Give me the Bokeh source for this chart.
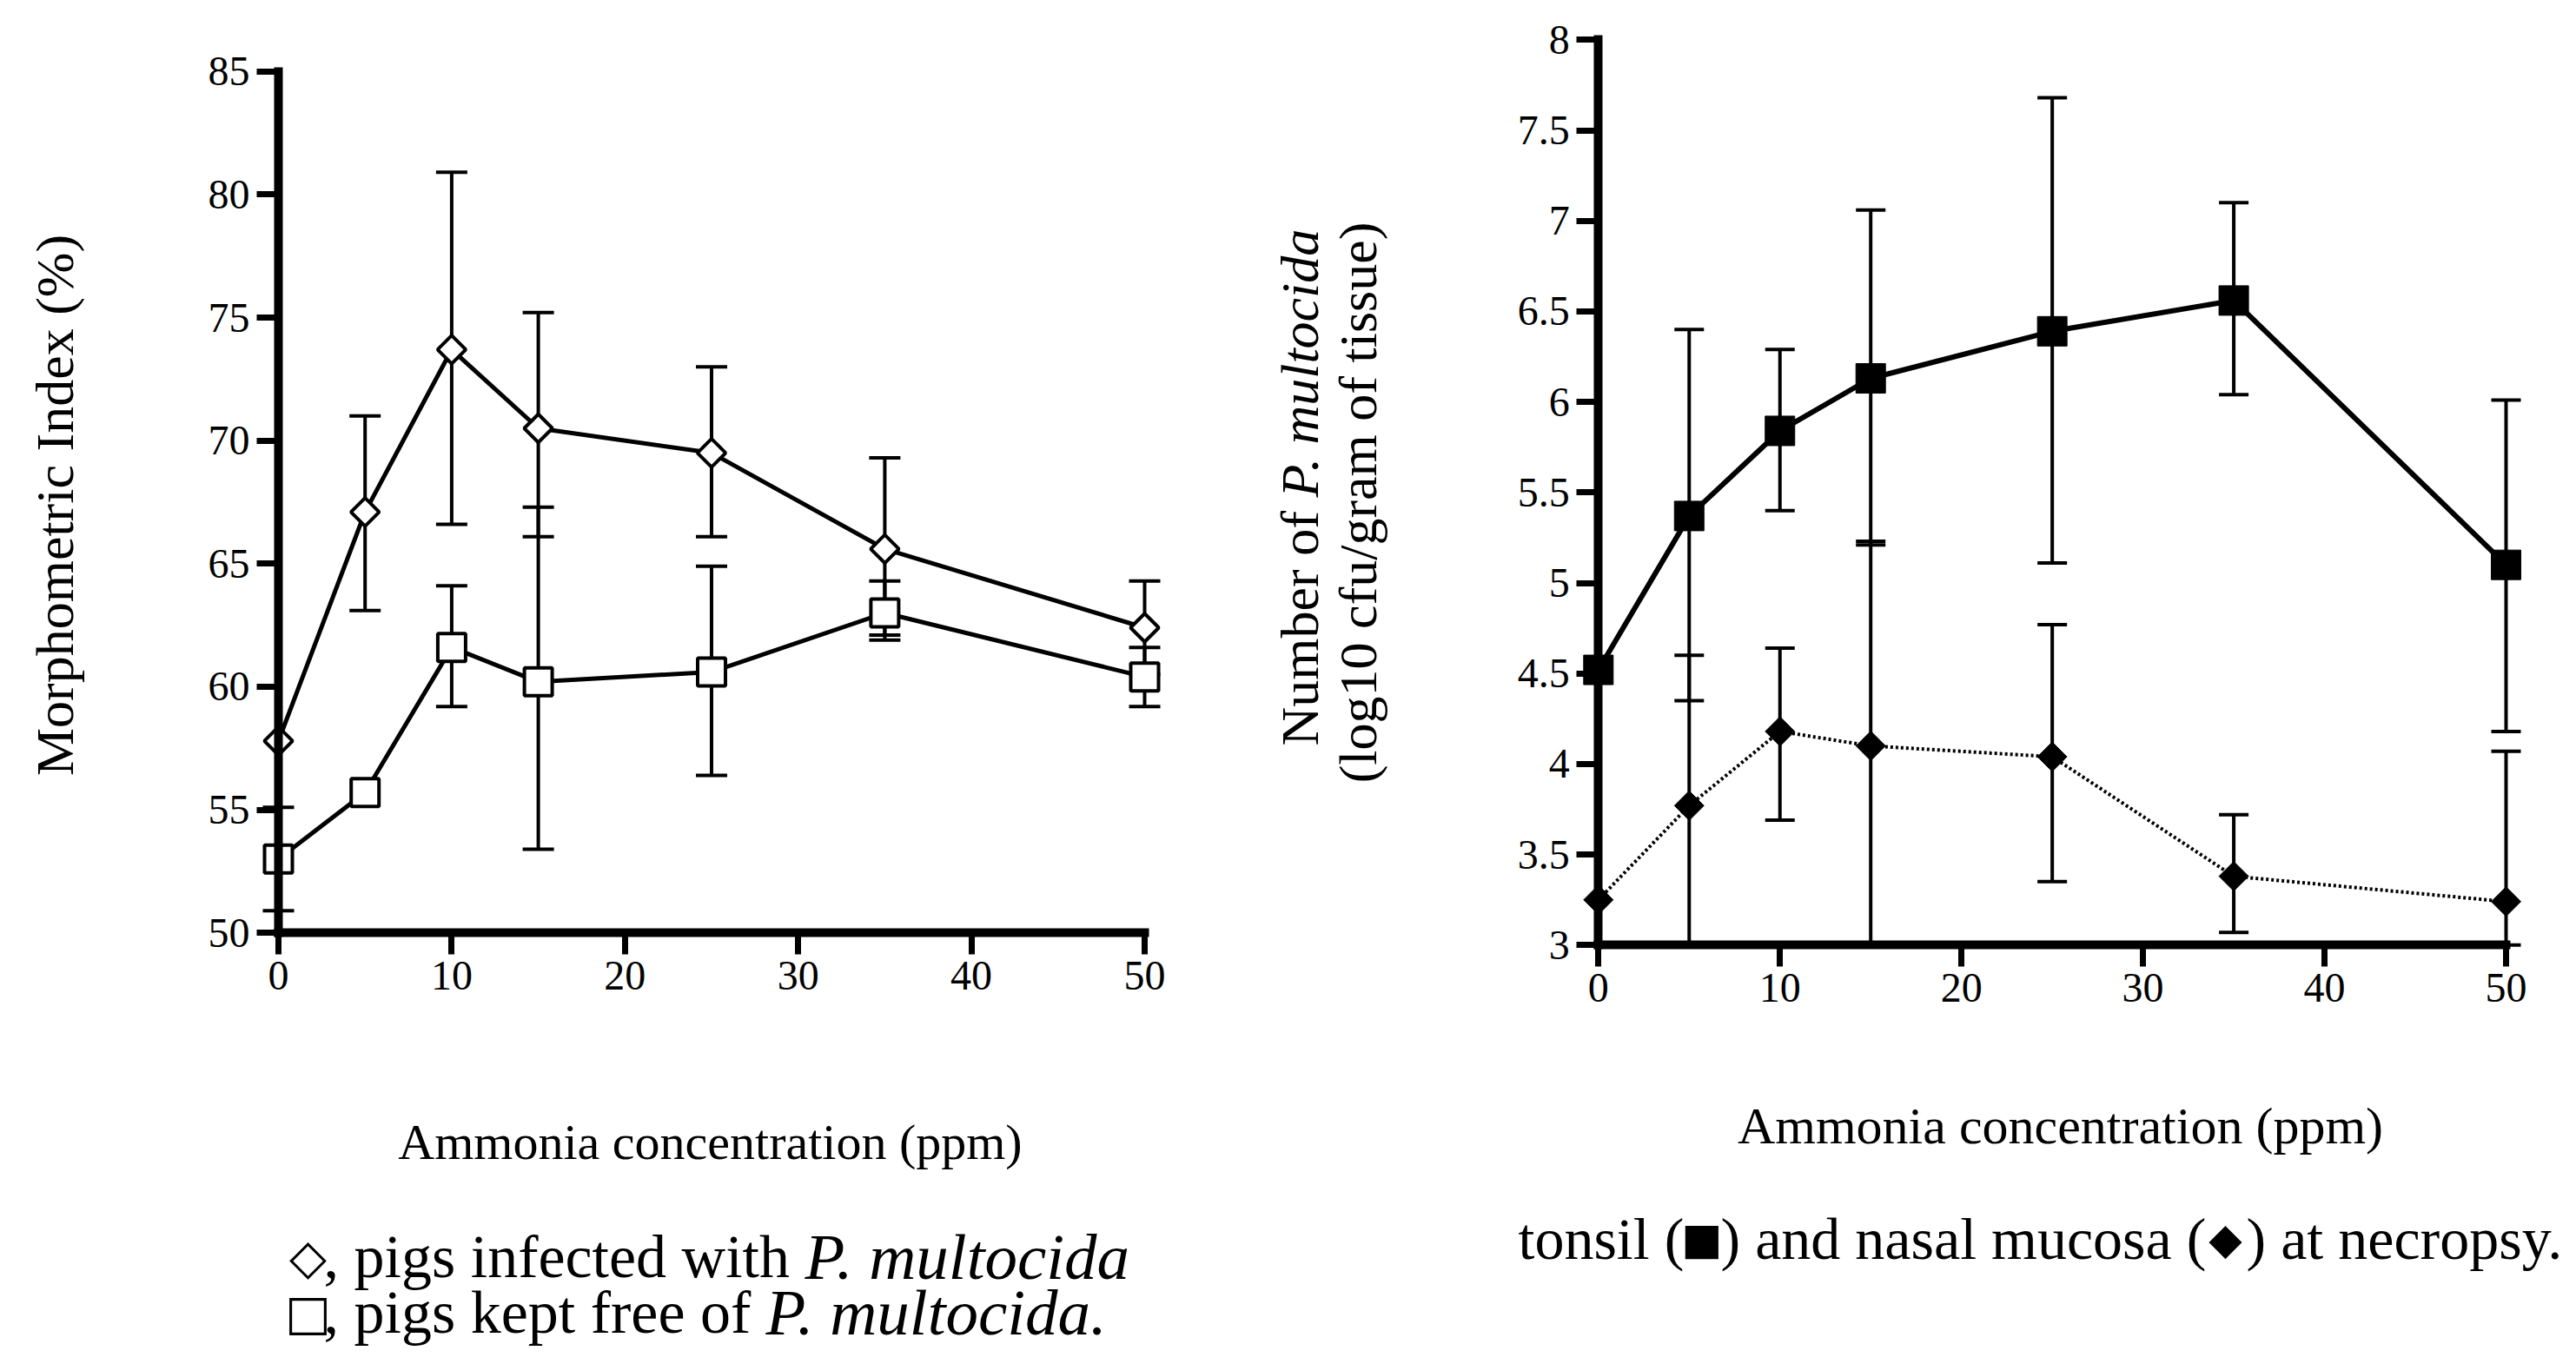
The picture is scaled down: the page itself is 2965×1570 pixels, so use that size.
import numpy as np
from bokeh.plotting import figure
from bokeh.models import Range1d, FixedTicker, Label, Whisker, TeeHead, ColumnDataSource
from bokeh.layouts import row
from bokeh.embed import file_html
from bokeh.resources import INLINE

# ---------------- data ----------------
conc = [0, 5, 10, 15, 25, 35, 50]

# left panel: morphometric index (%)
infected = [57.8, 67.1, 73.7, 70.5, 69.5, 65.6, 62.4]
infected_upper = [None, 71.0, 80.9, 75.2, 73.0, 69.3, 64.3]
infected_lower = [None, 63.1, 66.6, 66.1, 66.1, 61.9, 60.5]
free = [53.0, 55.7, 61.6, 60.2, 60.6, 63.0, 60.4]
free_upper = [55.1, None, 64.1, 67.3, 64.9, 64.3, 61.6]
free_lower = [50.9, None, 59.2, 53.4, 56.4, 62.1, 59.2]

# right panel: log10 cfu / gram of tissue
tonsil = [4.52, 5.37, 5.84, 6.13, 6.39, 6.56, 5.10]
tonsil_upper = [None, 6.40, 6.29, 7.06, 7.68, 7.10, 6.01]
tonsil_lower = [None, 4.35, 5.40, 5.21, 5.11, 6.04, 4.18]
nasal = [3.25, 3.77, 4.18, 4.10, 4.04, 3.38, 3.24]
nasal_upper = [None, 4.60, 4.64, 5.23, 4.77, 3.72, 4.07]
nasal_lower = [None, 3.00, 3.69, 3.00, 3.35, 3.07, 3.00]

x_ticks = [0, 10, 20, 30, 40, 50]
x_tick_labels = ["0", "10", "20", "30", "40", "50"]
left_y_ticks = [50, 55, 60, 65, 70, 75, 80, 85]
left_y_labels = ["50", "55", "60", "65", "70", "75", "80", "85"]
right_y_ticks = [3, 3.5, 4, 4.5, 5, 5.5, 6, 6.5, 7, 7.5, 8]
right_y_labels = ["3", "3.5", "4", "4.5", "5", "5.5", "6", "6.5", "7", "7.5", "8"]

x_title = "Ammonia concentration (ppm)"
left_y_title = "Morphometric Index (%)"
right_y_title_1a = "Number of "
right_y_title_1b = "P. multocida"
right_y_title_2 = "(log10 cfu/gram of tissue)"
left_caption_1 = ", pigs infected with "
left_caption_2 = ", pigs kept free of "
italic_name = "P. multocida"
right_caption_a = "tonsil ("
right_caption_b = ") and nasal mucosa ("
right_caption_c = ") at necropsy."

FONT = "'Liberation Serif', 'DejaVu Serif', serif"
SYM_FONT = "'DejaVu Sans', sans-serif"

# ---------------- layout (page pixels) ----------------
MARGIN = 8
FIG_H = 1554
L_W, R_W = 1432, 1517
L_LEFT, R_LEFT = MARGIN, MARGIN + L_W
# page positions of axis anchors: (x of first tick, x of last tick, y of top tick, y of bottom tick)
L_ANCH = (328.0, 1325.0, 89.7, 1081.3)
R_ANCH = (1847.3, 2892.0, 53.3, 1095.3)


def ranges(fig_left, width, anch, x_lim, y_lim):
    x0p, x1p, ytp, ybp = anch
    sx = (x1p - x0p) / (x_lim[1] - x_lim[0])
    sy = (ybp - ytp) / (y_lim[1] - y_lim[0])
    xmin = x_lim[0] - (x0p - fig_left) / sx
    xmax = xmin + width / sx
    ymax = y_lim[1] + (ytp - MARGIN) / sy
    ymin = ymax - FIG_H / sy

    def conv(px, py):
        return xmin + (px - fig_left) / sx, ymax - (py - MARGIN) / sy
    return (xmin, xmax), (ymin, ymax), conv


L_XR, L_YR, conv_l = ranges(L_LEFT, L_W, L_ANCH, (0, 50), (50, 85))
R_XR, R_YR, conv_r = ranges(R_LEFT, R_W, R_ANCH, (0, 50), (3, 8))


def make_fig(w, xr, yr):
    p = figure(width=w, height=FIG_H,
               x_range=Range1d(*xr), y_range=Range1d(*yr),
               min_border=0, min_border_left=0, min_border_right=0,
               min_border_top=0, min_border_bottom=0,
               output_backend="svg", toolbar_location=None)
    p.grid.visible = False
    p.outline_line_color = None
    p.background_fill_color = "white"
    p.border_fill_color = "white"
    return p


def style_axes(p, xfix, yfix, xb, yb, yticks, ylabels):
    p.xaxis.fixed_location = xfix
    p.yaxis.fixed_location = yfix
    p.xaxis.bounds = xb
    p.yaxis.bounds = yb
    p.xaxis.ticker = FixedTicker(ticks=x_ticks)
    p.yaxis.ticker = FixedTicker(ticks=yticks)
    p.xaxis.major_label_overrides = {t: s for t, s in zip(x_ticks, x_tick_labels)}
    p.yaxis.major_label_overrides = {(int(t) if float(t).is_integer() else t): s
                                     for t, s in zip(yticks, ylabels)}
    for ax in (p.xaxis, p.yaxis):
        ax.axis_line_width = 10
        ax.axis_line_color = "black"
        ax.axis_line_cap = "square"
        ax.major_tick_line_width = 7
        ax.major_tick_line_color = "black"
        ax.major_tick_out = 25
        ax.major_tick_in = 0
        ax.minor_tick_line_color = None
        ax.major_label_text_font = FONT
        ax.major_label_text_font_size = "48px"
        ax.major_label_text_color = "black"
        ax.major_label_standoff = 8


def whisk(p, xs, up, lo, cap, lw):
    idx = [i for i in range(len(xs)) if up[i] is not None]
    src = ColumnDataSource(dict(base=[xs[i] for i in idx],
                                upper=[up[i] for i in idx],
                                lower=[lo[i] for i in idx]))
    w = Whisker(source=src, base="base", upper="upper", lower="lower",
                line_width=lw, line_color="black", level="underlay",
                upper_head=TeeHead(size=cap, line_width=lw, line_color="black"),
                lower_head=TeeHead(size=cap, line_width=lw, line_color="black"))
    p.add_layout(w)


def lab(p, conv, px, py, text, size, angle=0.0, align="left", baseline="middle",
        style="normal", font=FONT):
    x, y = conv(px, py)
    p.add_layout(Label(x=x, y=y, x_units="data", y_units="data", text=text,
                       text_font=font, text_font_size=f"{size}px",
                       text_font_style=style, angle=angle, text_align=align,
                       text_baseline=baseline, text_color="black"))


# ---------------- left figure ----------------
p1 = make_fig(L_W, L_XR, L_YR)
style_axes(p1, 50, 0, (0, 50), (50, 85), left_y_ticks, left_y_labels)

whisk(p1, conc, infected_upper, infected_lower, 36, 4)
whisk(p1, conc, free_upper, free_lower, 36, 4)
p1.line(conc, infected, line_width=5, line_color="black")
p1.line(conc, free, line_width=5, line_color="black")
p1.scatter(conc, infected, marker="square", size=23, angle=np.pi / 4,
           fill_color="white", line_color="black", line_width=4)
p1.scatter(conc, free, marker="square", size=32,
           fill_color="white", line_color="black", line_width=4)

lab(p1, conv_l, 70, 589, left_y_title, 62, angle=np.pi / 2, align="center")
lab(p1, conv_l, 825, 1322, x_title, 58, align="center")
lab(p1, conv_l, 362, 1454, "\u25C7", 56, align="center", font=SYM_FONT)
lab(p1, conv_l, 380, 1454, left_caption_1, 70)
lab(p1, conv_l, 380 + 554, 1454, italic_name, 75, style="italic")
lab(p1, conv_l, 362, 1518, "\u25A1", 56, align="center", font=SYM_FONT)
lab(p1, conv_l, 380, 1518, left_caption_2, 70)
lab(p1, conv_l, 380 + 509, 1518, italic_name + ".", 75, style="italic")

# ---------------- right figure ----------------
p2 = make_fig(R_W, R_XR, R_YR)
style_axes(p2, 3, 0, (0, 50), (3, 8), right_y_ticks, right_y_labels)

whisk(p2, conc, tonsil_upper, tonsil_lower, 34, 4)
whisk(p2, conc, nasal_upper, nasal_lower, 34, 4)
p2.line(conc, tonsil, line_width=6, line_color="black")
p2.line(conc, nasal, line_width=4, line_color="black", line_dash="3 3")
p2.scatter(conc, tonsil, marker="square", size=34,
           fill_color="black", line_color="black", line_width=1)
p2.scatter(conc, nasal, marker="square", size=24, angle=np.pi / 4,
           fill_color="black", line_color="black", line_width=1)

lab(p2, conv_r, 1503, 866, right_y_title_1a, 62, angle=np.pi / 2)
lab(p2, conv_r, 1503, 866 - 286, right_y_title_1b, 62, angle=np.pi / 2, style="italic")
lab(p2, conv_r, 1570, 586, right_y_title_2, 62, angle=np.pi / 2, align="center")
lab(p2, conv_r, 2379, 1303, x_title, 60, align="center")
lab(p2, conv_r, 1755, 1433, right_caption_a, 68)
lab(p2, conv_r, 1966, 1433, "\u25A0", 50, align="center", font=SYM_FONT)
lab(p2, conv_r, 1988, 1433, right_caption_b, 68)
lab(p2, conv_r, 2569, 1433, "\u25C6", 50, align="center", font=SYM_FONT)
lab(p2, conv_r, 2593, 1433, right_caption_c, 68)

layout = row(p1, p2)
open("out.html", "w").write(file_html(layout, INLINE))
